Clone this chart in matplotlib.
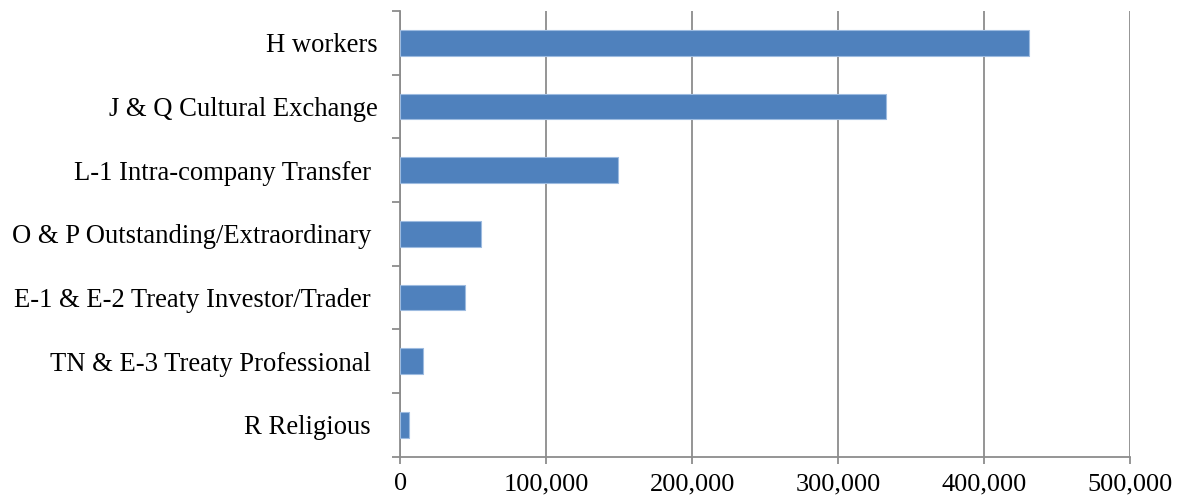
import numpy as np
import matplotlib.pyplot as plt
from matplotlib.ticker import FuncFormatter

# visa categories, listed bottom to top
categories = ['R Religious ', 'TN & E-3 Treaty Professional ', 'E-1 & E-2 Treaty Investor/Trader ',
              'O & P Outstanding/Extraordinary ', 'L-1 Intra-company Transfer ',
              'J & Q Cultural Exchange', 'H workers']
counts = [6000, 15600, 44000, 55100, 149200, 332500, 430700]
xticks = [0, 100000, 200000, 300000, 400000, 500000]

plt.rcParams['font.family'] = ['Liberation Serif', 'DejaVu Serif']
grid_col = '#8c8c8c'

fig = plt.figure(figsize=(11.8, 5.01), dpi=100)
ax = fig.add_axes([0.3394, 0.0884, 0.6182, 0.8896])

y = np.arange(len(categories))
ax.barh(y, counts, height=0.4, color='#4f81bd', edgecolor='#9dbbe0', linewidth=0.8, zorder=3)

ax.set_xlim(0, 500000)
ax.set_ylim(-0.5, len(categories) - 0.5)
ax.set_xticks(xticks)
ax.xaxis.set_major_formatter(FuncFormatter(lambda v, p: f'{int(v):,}'))
ax.grid(axis='x', color=grid_col, linewidth=1.3, zorder=0)

# ticks sit between categories, labels sit on the bars
ax.set_yticks(np.arange(-0.5, len(categories), 1.0))
ax.set_yticklabels([])
ax.set_yticks(y, minor=True)
ax.set_yticklabels(categories, minor=True)
ax.tick_params(axis='y', which='minor', length=0, pad=16.5, labelsize=19.2)
ax.tick_params(axis='y', which='major', length=6, width=1.3, color=grid_col)
ax.tick_params(axis='x', length=5, width=1.3, color=grid_col, labelsize=19, pad=7)

for s in ['top', 'right']:
    ax.spines[s].set_visible(False)
for s in ['left', 'bottom']:
    ax.spines[s].set_color(grid_col)
    ax.spines[s].set_linewidth(1.3)

fig.savefig('out.png', dpi=100)
